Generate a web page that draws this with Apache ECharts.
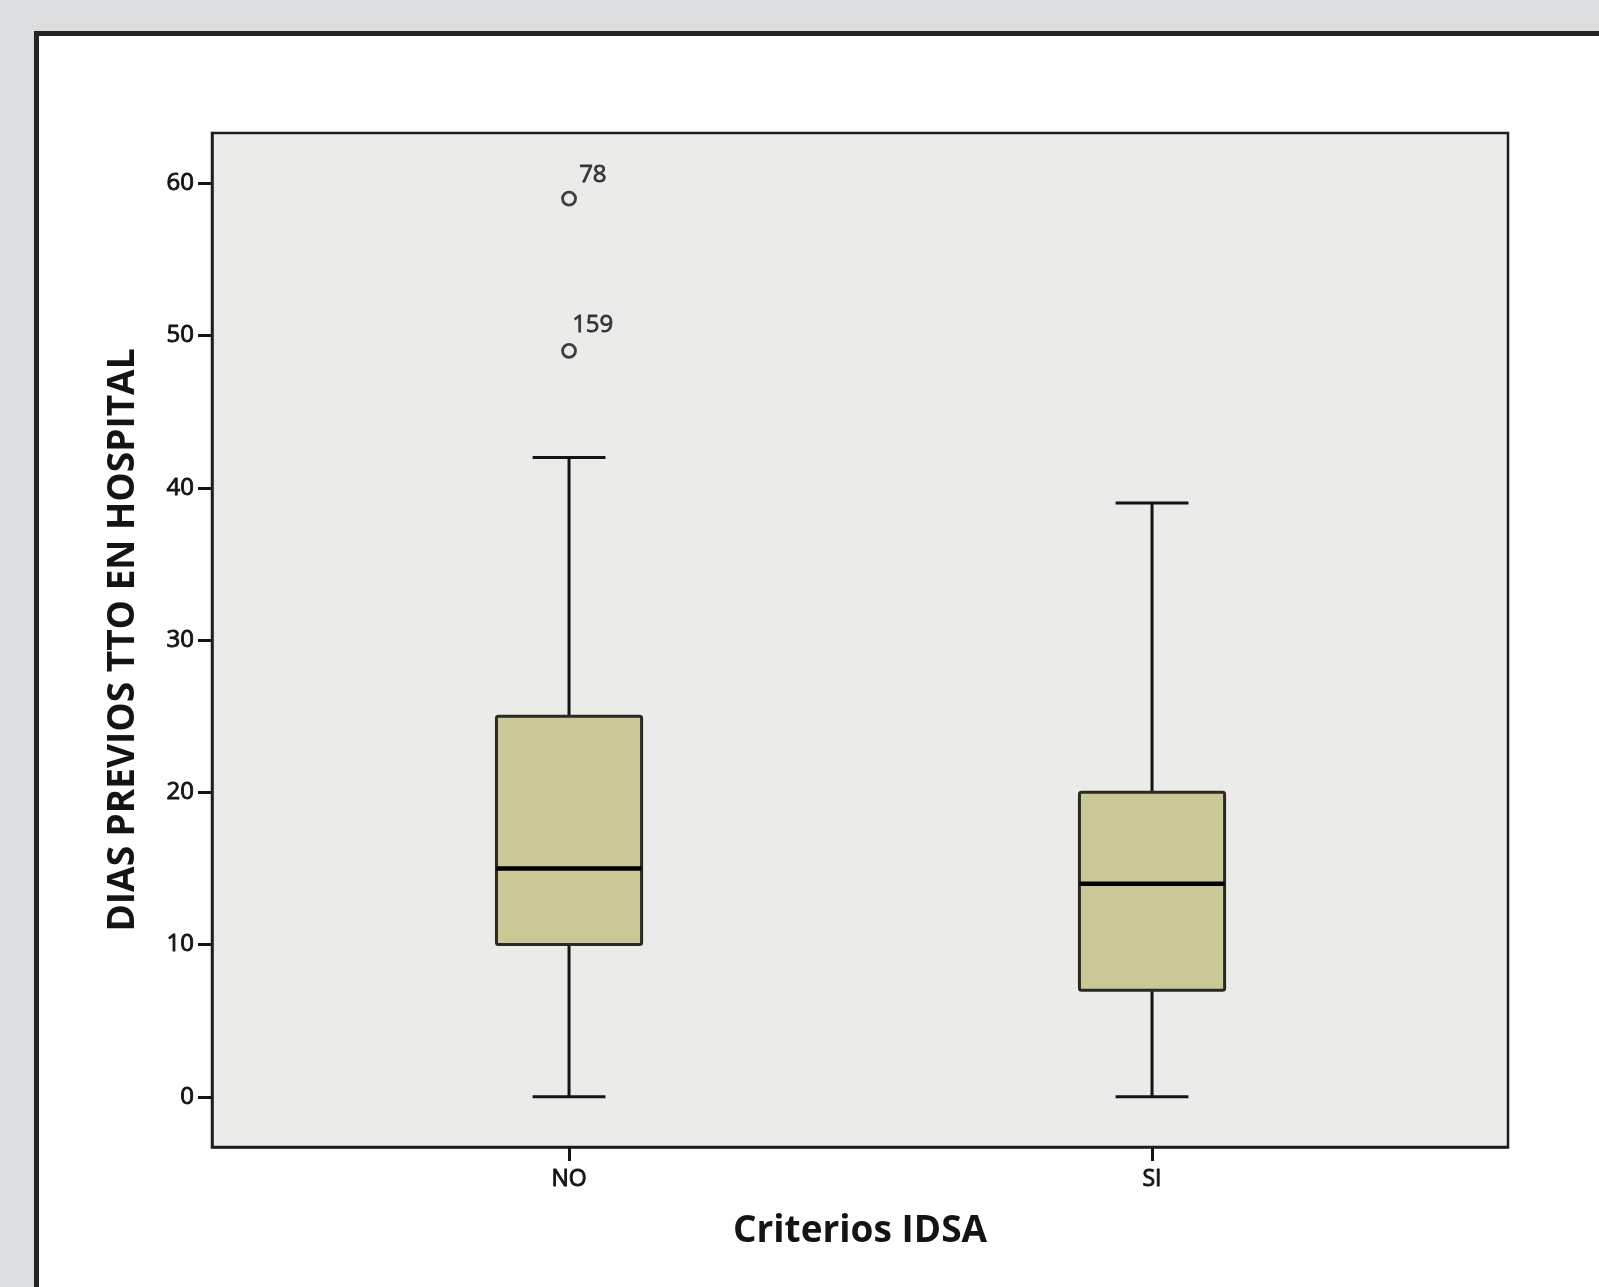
<!DOCTYPE html>
<html>
<head>
<meta charset="utf-8">
<script src="https://cdn.jsdelivr.net/npm/echarts@6/dist/echarts.min.js"></script>
<style>
  html, body { margin: 0; padding: 0; background: #dcdddf; }
  #chart { width: 1599px; height: 1287px; }
</style>
</head>
<body>
<div id="chart"></div>
<script>
// ---- data ----
const categories = ['NO', 'SI'];
const whiskerLow = [0, 0];
const q1Values = [10, 7];
const medianValues = [15, 14];
const q3Values = [25, 20];
const whiskerHigh = [42, 39];
const outlierCategory = [0, 0];
const outlierValues = [59, 49];
const outlierIds = ['78', '159'];
const yTicks = [0, 10, 20, 30, 40, 50, 60];

// ---- styles ----
const BOX_HALF = 0.1245;   // half box width in category units
const CAP_HALF = 0.0625;   // half whisker cap width
const FONT = '"Open Sans", "DejaVu Sans", sans-serif';
const INK = '#141414';

const boxData = categories.map((c, i) => [i, whiskerLow[i], q1Values[i], medianValues[i], q3Values[i], whiskerHigh[i]]);
const outlierData = outlierValues.map((v, i) => ({
  value: [outlierCategory[i], v],
  label: {
    show: true,
    formatter: outlierIds[i],
    position: i === 0 ? [18, -16] : [11, -18],
    align: 'left',
    verticalAlign: 'middle',
    fontFamily: FONT,
    fontSize: 24,
    color: INK,
    textBorderColor: INK,
    textBorderWidth: 0.8
  }
}));

const chart = echarts.init(document.getElementById('chart'), null, { renderer: 'canvas' });

const option = {
  backgroundColor: '#dcdddf',
  animation: false,
  graphic: [{
    type: 'rect',
    z: -10,
    shape: { x: 36.5, y: 33.5, width: 1700, height: 1400 },
    style: { fill: '#ffffff', stroke: '#232323', lineWidth: 5 }
  }],
  grid: {
    left: 212, top: 133, width: 1296, height: 1014,
    show: true,
    backgroundColor: '#ebebe9',
    borderColor: '#1e1e1e',
    borderWidth: 2.5
  },
  xAxis: {
    type: 'value',
    min: -0.6124,
    max: 1.6106,
    name: 'Criterios IDSA',
    nameLocation: 'middle',
    nameGap: 66,
    nameTextStyle: { fontFamily: FONT, fontSize: 37, fontWeight: 'bold', color: INK },
    axisLine: { show: true, onZero: false, lineStyle: { color: '#1e1e1e', width: 2.5 } },
    axisTick: { show: true, customValues: [0, 1], length: 14, lineStyle: { color: INK, width: 3 } },
    axisLabel: {
      show: true, customValues: [0, 1], margin: 21,
      formatter: v => categories[Math.round(v)],
      fontFamily: FONT, fontSize: 23, color: INK,
      textBorderColor: INK, textBorderWidth: 0.9
    },
    splitLine: { show: false }
  },
  yAxis: {
    type: 'value',
    min: -3.3,
    max: 63.31,
    name: 'DIAS PREVIOS TTO EN HOSPITAL',
    nameLocation: 'middle',
    nameRotate: 90,
    nameGap: 70,
    nameTextStyle: { fontFamily: FONT, fontSize: 37, fontWeight: 'bold', color: INK },
    axisLine: { show: true, onZero: false, lineStyle: { color: '#1e1e1e', width: 2.5 } },
    axisTick: { show: true, customValues: yTicks, length: 14, lineStyle: { color: INK, width: 3 } },
    axisLabel: {
      show: true, customValues: yTicks, margin: 18,
      fontFamily: FONT, fontSize: 24, color: INK,
      textBorderColor: INK, textBorderWidth: 0.9
    },
    splitLine: { show: false }
  },
  series: [
    {
      type: 'custom',
      data: boxData,
      encode: { x: 0, y: [1, 2, 3, 4, 5] },
      clip: false,
      renderItem: function (params, api) {
        const x = api.value(0);
        const lo = api.value(1), q1 = api.value(2), med = api.value(3), q3 = api.value(4), hi = api.value(5);
        const pTL = api.coord([x - BOX_HALF, q3]);
        const pBR = api.coord([x + BOX_HALF, q1]);
        const c = (xx, yy) => api.coord([xx, yy]);
        const lineStyle = { stroke: INK, lineWidth: 3 };
        const line = (a, b, st) => ({ type: 'line', shape: { x1: a[0], y1: a[1], x2: b[0], y2: b[1] }, style: st || lineStyle });
        return {
          type: 'group',
          children: [
            line(c(x, q3), c(x, hi)),
            line(c(x, q1), c(x, lo)),
            line(c(x - CAP_HALF, hi), c(x + CAP_HALF, hi)),
            line(c(x - CAP_HALF, lo), c(x + CAP_HALF, lo)),
            {
              type: 'rect',
              shape: { x: pTL[0], y: pTL[1], width: pBR[0] - pTL[0], height: pBR[1] - pTL[1], r: 2 },
              style: { fill: '#cac896', stroke: '#2a2a22', lineWidth: 3 }
            },
            line(c(x - BOX_HALF, med), c(x + BOX_HALF, med), { stroke: '#000', lineWidth: 4.5 })
          ]
        };
      }
    },
    {
      type: 'scatter',
      data: outlierData,
      symbol: 'circle',
      symbolSize: 13,
      itemStyle: { color: 'rgba(0,0,0,0)', borderColor: INK, borderWidth: 2.8 }
    }
  ]
};

chart.setOption(option);
</script>
</body>
</html>
